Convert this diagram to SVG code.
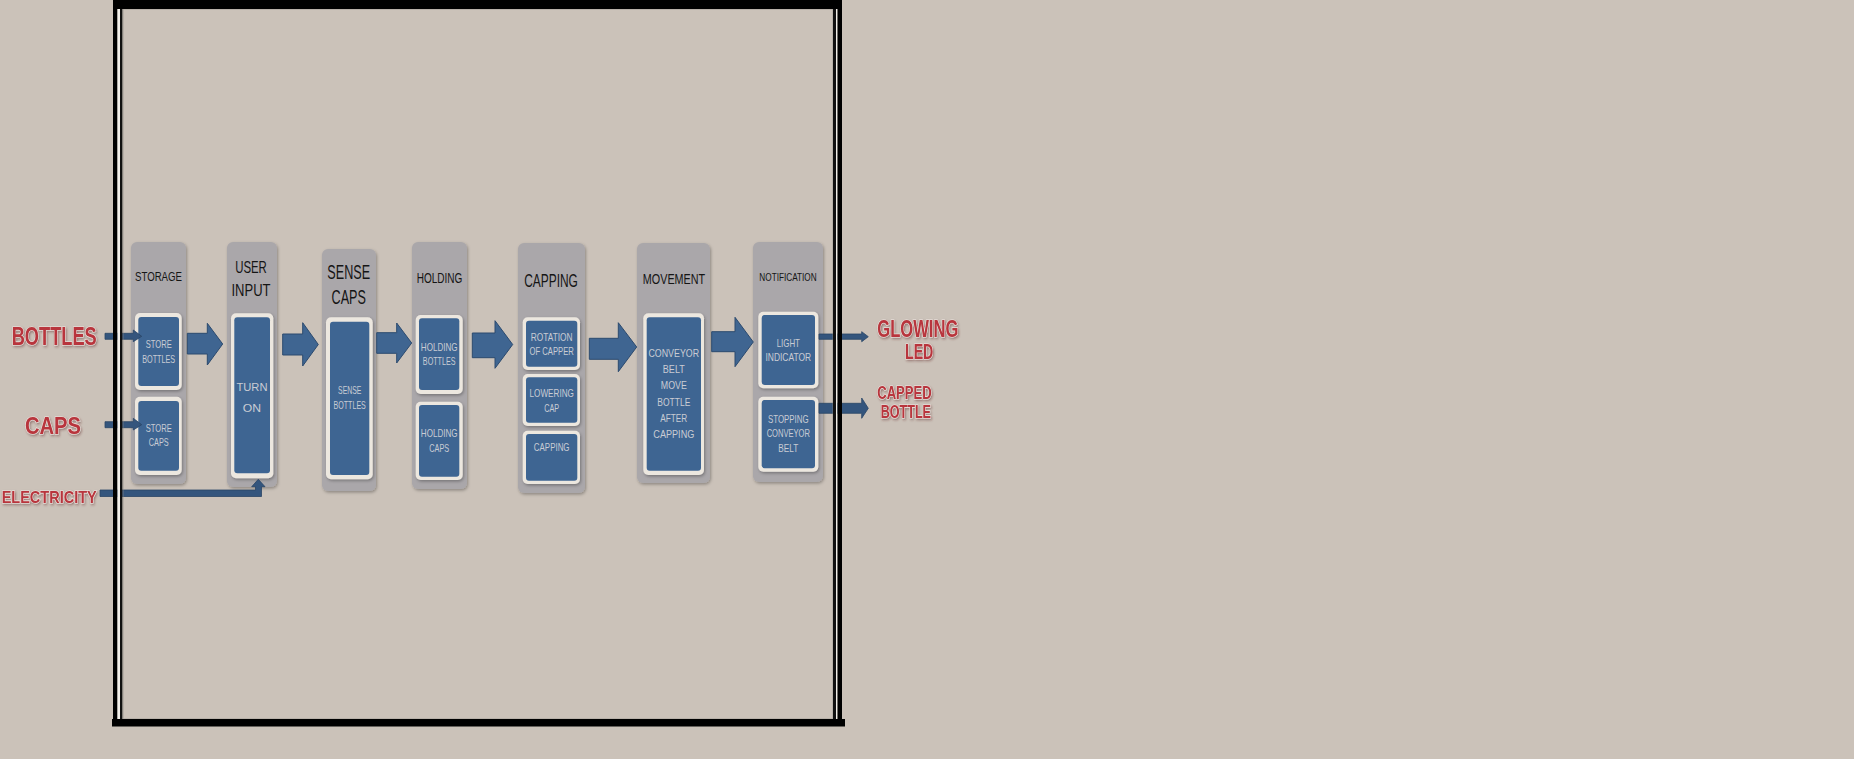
<svg xmlns="http://www.w3.org/2000/svg" width="1854" height="759" viewBox="0 0 1854 759">
<defs>
<filter id="sh" x="-20%" y="-20%" width="140%" height="140%">
<feDropShadow dx="1" dy="1.5" stdDeviation="1.5" flood-color="#000" flood-opacity="0.3"/>
</filter>
<filter id="rs" x="-10%" y="-20%" width="120%" height="140%">
<feDropShadow dx="1" dy="1.5" stdDeviation="1" flood-color="#5a2020" flood-opacity="0.45"/>
</filter>
</defs>
<style>
.col{fill:#aaa7aa;filter:url(#sh)}
.frm{fill:#ece7df;filter:url(#sh)}
.blu{fill:#3e6592}
.hd{font-family:"Liberation Sans",Arial,sans-serif;fill:#151515;text-anchor:middle}
.bt{font-family:"Liberation Sans",Arial,sans-serif;fill:#c9ccd4;text-anchor:middle;font-size:11px}
.red{font-family:"Liberation Sans",Arial,sans-serif;font-weight:bold;fill:#b8353c;stroke:#f1e6e2;stroke-width:1.2;paint-order:stroke;filter:url(#rs)}
.ba{fill:#3f6591;stroke:#2c4a6e;stroke-width:1}
.sa{fill:#34557d;stroke:#2a4566;stroke-width:0.8}
</style>
<rect width="1854" height="759" fill="#cbc2b9"/>

<g id="storage">
<rect class="col" x="131" y="242" width="55" height="242" rx="6"/>
<text class="hd" x="158.5" y="281" font-size="12" textLength="47" lengthAdjust="spacingAndGlyphs">STORAGE</text>
<rect class="frm" x="135" y="313" width="46.7" height="77" rx="5"/>
<rect class="blu" x="138.3" y="317" width="40.7" height="69" rx="3"/>
<text class="bt" x="158.7" y="348.3" textLength="26" lengthAdjust="spacingAndGlyphs">STORE</text>
<text class="bt" x="158.7" y="363" textLength="33" lengthAdjust="spacingAndGlyphs">BOTTLES</text>
<rect class="frm" x="135" y="396.7" width="46.7" height="78.3" rx="5"/>
<rect class="blu" x="138.3" y="401" width="40.7" height="69.7" rx="3"/>
<text class="bt" x="158.7" y="432.3" textLength="26" lengthAdjust="spacingAndGlyphs">STORE</text>
<text class="bt" x="158.7" y="446.3" textLength="20" lengthAdjust="spacingAndGlyphs">CAPS</text>
</g>

<g id="user-input">
<rect class="col" x="227" y="242" width="50" height="245" rx="6"/>
<text class="hd" x="251" y="273" font-size="17" textLength="31.7" lengthAdjust="spacingAndGlyphs">USER</text>
<text class="hd" x="251" y="295.5" font-size="17" textLength="39" lengthAdjust="spacingAndGlyphs">INPUT</text>
<rect class="frm" x="231" y="313.3" width="42.3" height="165" rx="5"/>
<rect class="blu" x="234.3" y="317.3" width="35.7" height="156" rx="3"/>
<text class="bt" x="252" y="391" font-size="17" textLength="31" lengthAdjust="spacingAndGlyphs">TURN</text>
<text class="bt" x="252" y="411.7" font-size="17" textLength="18.3" lengthAdjust="spacingAndGlyphs">ON</text>
</g>

<g id="sense-caps">
<rect class="col" x="322" y="249" width="54" height="242" rx="6"/>
<text class="hd" x="348.7" y="279" font-size="21" textLength="42.7" lengthAdjust="spacingAndGlyphs">SENSE</text>
<text class="hd" x="348.7" y="303.5" font-size="21" textLength="34.3" lengthAdjust="spacingAndGlyphs">CAPS</text>
<rect class="frm" x="326" y="317.3" width="46.7" height="162" rx="5"/>
<rect class="blu" x="330" y="321.7" width="39.3" height="153.3" rx="3"/>
<text class="bt" x="349.7" y="394" textLength="23.3" lengthAdjust="spacingAndGlyphs">SENSE</text>
<text class="bt" x="349.7" y="409" textLength="32.3" lengthAdjust="spacingAndGlyphs">BOTTLES</text>
</g>

<g id="holding">
<rect class="col" x="412" y="242" width="55" height="247" rx="6"/>
<text class="hd" x="439.5" y="283" font-size="14" textLength="45.7" lengthAdjust="spacingAndGlyphs">HOLDING</text>
<rect class="frm" x="415.7" y="315" width="47" height="79" rx="5"/>
<rect class="blu" x="419" y="318.3" width="40.3" height="71.7" rx="3"/>
<text class="bt" x="439.2" y="350.7" textLength="36.7" lengthAdjust="spacingAndGlyphs">HOLDING</text>
<text class="bt" x="439.2" y="365" textLength="32.7" lengthAdjust="spacingAndGlyphs">BOTTLES</text>
<rect class="frm" x="415.7" y="401.7" width="47" height="78.3" rx="5"/>
<rect class="blu" x="419" y="405" width="40.3" height="71.7" rx="3"/>
<text class="bt" x="439.2" y="437.3" textLength="36.7" lengthAdjust="spacingAndGlyphs">HOLDING</text>
<text class="bt" x="439.2" y="452.3" textLength="20" lengthAdjust="spacingAndGlyphs">CAPS</text>
</g>

<g id="capping">
<rect class="col" x="518" y="243" width="67" height="250" rx="6"/>
<text class="hd" x="551" y="287" font-size="18" textLength="53.7" lengthAdjust="spacingAndGlyphs">CAPPING</text>
<rect class="frm" x="522.7" y="317.3" width="57.3" height="52.7" rx="5"/>
<rect class="blu" x="526" y="320.7" width="51.3" height="46" rx="3"/>
<text class="bt" x="551.7" y="340.7" textLength="41.7" lengthAdjust="spacingAndGlyphs">ROTATION</text>
<text class="bt" x="551.7" y="354.7" textLength="44.3" lengthAdjust="spacingAndGlyphs">OF CAPPER</text>
<rect class="frm" x="522.7" y="374" width="57.3" height="52" rx="5"/>
<rect class="blu" x="526" y="377.3" width="51.3" height="45.4" rx="3"/>
<text class="bt" x="551.7" y="397.3" textLength="44.3" lengthAdjust="spacingAndGlyphs">LOWERING</text>
<text class="bt" x="551.7" y="412.3" textLength="15" lengthAdjust="spacingAndGlyphs">CAP</text>
<rect class="frm" x="522.7" y="430.7" width="57.3" height="53.3" rx="5"/>
<rect class="blu" x="526" y="434" width="51.3" height="46.7" rx="3"/>
<text class="bt" x="551.7" y="450.7" textLength="35.7" lengthAdjust="spacingAndGlyphs">CAPPING</text>
</g>

<g id="movement">
<rect class="col" x="637" y="243" width="73" height="240" rx="6"/>
<text class="hd" x="674" y="283.5" font-size="15" textLength="62.3" lengthAdjust="spacingAndGlyphs">MOVEMENT</text>
<rect class="frm" x="643.3" y="313.3" width="60.7" height="161.7" rx="5"/>
<rect class="blu" x="646.7" y="317.3" width="54.3" height="153.4" rx="3"/>
<g font-size="13">
<text class="bt" x="673.8" y="357.2" font-size="13" textLength="50.7" lengthAdjust="spacingAndGlyphs">CONVEYOR</text>
<text class="bt" x="673.8" y="372.8" font-size="13" textLength="22" lengthAdjust="spacingAndGlyphs">BELT</text>
<text class="bt" x="673.8" y="388.8" font-size="13" textLength="26" lengthAdjust="spacingAndGlyphs">MOVE</text>
<text class="bt" x="673.8" y="405.5" font-size="13" textLength="33" lengthAdjust="spacingAndGlyphs">BOTTLE</text>
<text class="bt" x="673.8" y="422.2" font-size="13" textLength="27" lengthAdjust="spacingAndGlyphs">AFTER</text>
<text class="bt" x="673.8" y="437.8" font-size="13" textLength="41" lengthAdjust="spacingAndGlyphs">CAPPING</text>
</g>
</g>

<g id="notification">
<rect class="col" x="753" y="242" width="70" height="240" rx="6"/>
<text class="hd" x="788" y="281" font-size="11" textLength="57.3" lengthAdjust="spacingAndGlyphs">NOTIFICATION</text>
<rect class="frm" x="758.3" y="311.7" width="60" height="76.6" rx="5"/>
<rect class="blu" x="761.7" y="315" width="53.3" height="70" rx="3"/>
<text class="bt" x="788.3" y="346.7" textLength="23.3" lengthAdjust="spacingAndGlyphs">LIGHT</text>
<text class="bt" x="788.3" y="360.7" textLength="45.7" lengthAdjust="spacingAndGlyphs">INDICATOR</text>
<rect class="frm" x="758.3" y="396.7" width="60" height="75" rx="5"/>
<rect class="blu" x="761.7" y="400" width="53.3" height="68.3" rx="3"/>
<text class="bt" x="788.3" y="423" textLength="40.7" lengthAdjust="spacingAndGlyphs">STOPPING</text>
<text class="bt" x="788.3" y="437.3" textLength="43.3" lengthAdjust="spacingAndGlyphs">CONVEYOR</text>
<text class="bt" x="788.3" y="452.3" textLength="20" lengthAdjust="spacingAndGlyphs">BELT</text>
</g>

<g id="labels">
<text class="red" x="11.7" y="345" font-size="26" textLength="85" lengthAdjust="spacingAndGlyphs">BOTTLES</text>
<text class="red" x="25" y="434" font-size="24" textLength="56" lengthAdjust="spacingAndGlyphs">CAPS</text>
<text class="red" x="1.7" y="502.7" font-size="16.5" textLength="95" lengthAdjust="spacingAndGlyphs">ELECTRICITY</text>
<text class="red" x="877.3" y="336.7" font-size="23" textLength="81" lengthAdjust="spacingAndGlyphs">GLOWING</text>
<text class="red" x="905" y="359.3" font-size="22" textLength="28.3" lengthAdjust="spacingAndGlyphs">LED</text>
<text class="red" x="877.3" y="399.3" font-size="18.5" textLength="54.3" lengthAdjust="spacingAndGlyphs">CAPPED</text>
<text class="red" x="880.7" y="418.3" font-size="18.5" textLength="50.3" lengthAdjust="spacingAndGlyphs">BOTTLE</text>
</g>

<g id="connectors">
<polygon class="ba" points="187.3,333.3 207.3,333.3 207.3,323.3 222.7,344 207.3,365 207.3,354 187.3,354"/>
<polygon class="ba" points="282.7,334 302.7,334 302.7,322.7 318.3,344.5 302.7,366 302.7,355 282.7,355"/>
<polygon class="ba" points="376.7,332.7 396.7,332.7 396.7,323 411.7,343 396.7,363 396.7,353.3 376.7,353.3"/>
<polygon class="ba" points="472.3,333 495,333 495,320.7 512.7,344.5 495,368.3 495,357.7 472.3,357.7"/>
<polygon class="ba" points="589.3,338.3 618.3,338.3 618.3,322.7 636.7,347 618.3,371.7 618.3,359.3 589.3,359.3"/>
<polygon class="ba" points="711.7,331.7 735,331.7 735,317.3 753.3,342 735,366.7 735,351.7 711.7,351.7"/>
<polygon class="sa" points="105,333.3 133.3,333.3 133.3,330 141.7,336.3 133.3,341.7 133.3,339.3 105,339.3"/>
<polygon class="sa" points="105,421.7 133.3,421.7 133.3,418.3 141.7,424.7 133.3,430 133.3,427.7 105,427.7"/>
<polygon class="sa" points="100,490 255.5,490 255.5,486.7 251.7,486.7 258.3,479.3 265,486.7 261.5,486.7 261.5,496.5 100,496.5"/>
<polygon class="sa" points="819,334 861.7,334 861.7,331.7 868.3,336.7 861.7,341.7 861.7,339.3 819,339.3"/>
<polygon class="sa" points="819,403.3 861.7,403.3 861.7,398 868.3,408.3 861.7,418.3 861.7,413.3 819,413.3"/>
</g>

<g id="frame">
<rect x="123" y="9" width="710" height="710" fill="none" stroke="#8d8883" stroke-width="1" opacity="0.6"/>
<rect x="113" y="0" width="4.5" height="722" fill="#000"/>
<rect x="117.5" y="0" width="2.5" height="722" fill="#f2efea"/>
<rect x="120" y="0" width="2.3" height="722" fill="#111"/>
<rect x="833" y="0" width="3" height="722" fill="#111"/>
<rect x="836" y="0" width="1.5" height="722" fill="#f2efea"/>
<rect x="837.5" y="0" width="4.5" height="722" fill="#000"/>
<rect x="114" y="0" width="728" height="9" fill="#000"/>
<rect x="112" y="719" width="733" height="7.5" fill="#000"/>
</g>
</svg>
